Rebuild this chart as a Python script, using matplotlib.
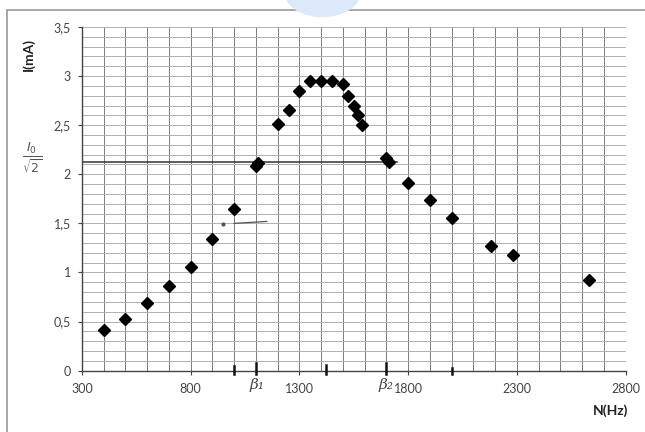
import numpy as np
import matplotlib
matplotlib.use("Agg")
import matplotlib.pyplot as plt
from matplotlib.patches import Circle, Rectangle

plt.rcParams['font.family'] = ['Lato', 'DejaVu Sans']

# measured points (frequency in Hz, current in mA)
freq = [400, 500, 600, 700, 800, 900, 1000, 1100, 1110, 1200, 1250, 1300,
        1350, 1400, 1450, 1500, 1525, 1550, 1570, 1590, 1700, 1710, 1800,
        1900, 2000, 2180, 2280, 2630]
current = [0.41, 0.53, 0.69, 0.86, 1.055, 1.34, 1.65, 2.08, 2.11, 2.51, 2.65,
           2.85, 2.95, 2.95, 2.95, 2.92, 2.80, 2.70, 2.60, 2.50, 2.17, 2.12,
           1.91, 1.74, 1.55, 1.27, 1.18, 0.925]

x_ticks = [300, 800, 1300, 1800, 2300, 2800]
y_ticks = [0, 0.5, 1, 1.5, 2, 2.5, 3, 3.5]
y_tick_labels = ['0', '0,5', '1', '1,5', '2', '2,5', '3', '3,5']

i_half = 2.12          # I0 / sqrt(2) line drawn by hand
beta1, beta2 = 1100, 1700

fig = plt.figure(figsize=(6.45, 4.32), dpi=100)
fig.patch.set_facecolor('white')

# scan frame and watermark blob
fig.patches.append(Rectangle((0.011, -0.05), 1.2, 1.027, transform=fig.transFigure,
                             fill=False, edgecolor='#9a9a9a', linewidth=1.2))
fig.patches.append(Circle((0.5, 1.02), 0.06, transform=fig.transFigure,
                          facecolor='#dbe9fb', edgecolor='none'))

ax = fig.add_axes([0.127, 0.142, 0.843, 0.7955])
ax.set_xlim(300, 2800)
ax.set_ylim(0, 3.5)

# graph paper
for xv in np.arange(300, 2801, 100):
    ax.axvline(xv, color='#7a7a7a', linewidth=0.7, zorder=1)
for yv in np.arange(0.1, 3.51, 0.1):
    ax.axhline(yv, color='#b0b0b0', linewidth=0.7, zorder=1)

# hand-drawn marks
ax.plot([300, 1750], [i_half, i_half], color='#333333', linewidth=1.1, zorder=2)
ax.plot([1000, 1150], [1.5, 1.52], color='#555555', linewidth=0.9, zorder=2)
ax.plot([950], [1.49], marker='o', ms=2, color='#555555', zorder=2)
for xv, h in [(1000, 0.05), (beta1, 0.08), (1420, 0.06), (beta2, 0.08), (2000, 0.03)]:
    ax.plot([xv, xv], [-0.03, h], color='#111111', linewidth=1.8, zorder=3, clip_on=False)

ax.plot(freq, current, linestyle='none', marker='D', ms=5.8, color='black', zorder=4)

for side in ['top', 'right']:
    ax.spines[side].set_visible(False)
for side in ['left', 'bottom']:
    ax.spines[side].set_color('#444444')
    ax.spines[side].set_linewidth(1.0)

ax.set_xticks(x_ticks)
ax.set_yticks(y_ticks)
ax.set_yticklabels(y_tick_labels)
ax.tick_params(axis='both', labelsize=9, colors='#444444', length=3, width=0.8)
ax.tick_params(axis='x', pad=6)
ax.tick_params(axis='y', pad=5)

fig.text(0.045, 0.873, 'I(mA)', rotation=90, fontsize=10, fontweight='bold',
         ha='center', va='center', color='#222222')
fig.text(0.947, 0.05, 'N(Hz)', fontsize=10, fontweight='bold',
         ha='center', va='center', color='#222222')

# handwritten labels
fig.text(0.05, 0.635, r'$\frac{I_0}{\sqrt{2}}$', fontsize=13, color='#555555',
         ha='center', va='center')
fig.text(0.398, 0.108, 'β₁', fontsize=11, color='#444444', ha='center', va='center',
         family=['DejaVu Serif'], style='italic')
fig.text(0.598, 0.108, 'β₂', fontsize=11, color='#444444', ha='center', va='center',
         family=['DejaVu Serif'], style='italic')

fig.savefig('out.png', dpi=100, facecolor='white')
